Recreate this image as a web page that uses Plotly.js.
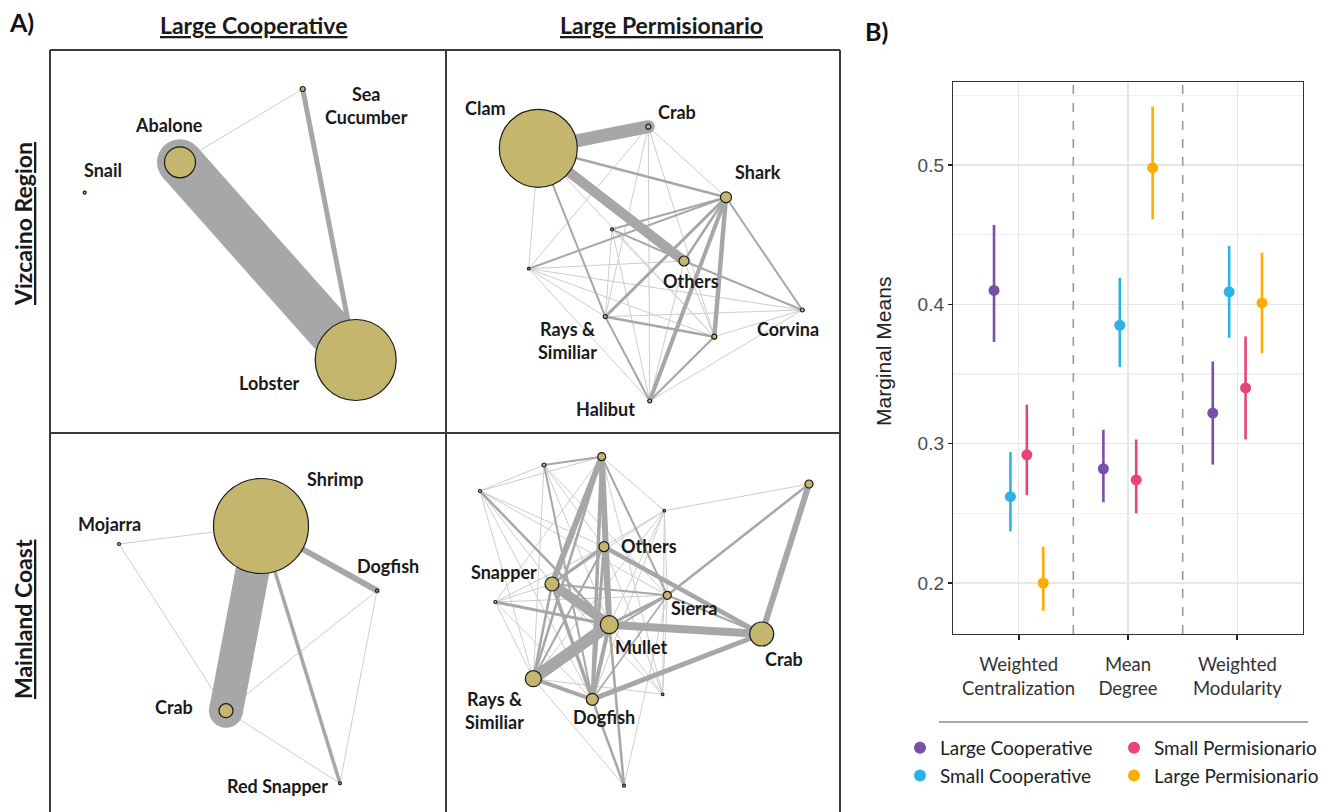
<!DOCTYPE html>
<html><head><meta charset="utf-8">
<script src="https://cdn.plot.ly/plotly-3.0.1.min.js"></script>
<style>html,body{margin:0;padding:0;background:#fff}#chart{width:1330px;height:812px}</style>
</head><body><div id="chart"></div>
<script>
// ================= Panel B data (marginal means with 95% CI) =================
const metrics = ['Weighted<br>Centralization', 'Mean<br>Degree', 'Weighted<br>Modularity'];
const groups = ['Large Cooperative', 'Small Cooperative', 'Small Permisionario', 'Large Permisionario'];
const meanLargeCoop = [0.410, 0.282, 0.322];
const lowLargeCoop  = [0.373, 0.258, 0.285];
const highLargeCoop = [0.457, 0.310, 0.359];
const meanSmallCoop = [0.262, 0.385, 0.409];
const lowSmallCoop  = [0.237, 0.355, 0.376];
const highSmallCoop = [0.294, 0.419, 0.442];
const meanSmallPerm = [0.292, 0.274, 0.340];
const lowSmallPerm  = [0.263, 0.250, 0.303];
const highSmallPerm = [0.328, 0.303, 0.377];
const meanLargePerm = [0.200, 0.498, 0.401];
const lowLargePerm  = [0.180, 0.461, 0.365];
const highLargePerm = [0.226, 0.542, 0.437];

// ================= Panel A network data (layout coordinates, node strength, edge weights) =================
// Vizcaino Region - Large Cooperative
const vcNodes    = ['Abalone', 'Sea Cucumber', 'Snail', 'Lobster'];
const vcX        = [130, 252.7, 34.7, 305.7];
const vcY        = [112.3, 39, 142.7, 310];
const vcStrength = [31, 5, 3, 81];
const vcFrom     = ['Abalone', 'Abalone', 'Sea Cucumber'];
const vcTo       = ['Lobster', 'Sea Cucumber', 'Lobster'];
const vcWeight   = [46, 1, 5];
const vcLabels   = ['Abalone', 'Sea<br>Cucumber', 'Snail', 'Lobster'];

// Vizcaino Region - Large Permisionario
const vpNodes    = ['Clam', 'Crab', 'Shark', 'u1', 'u2', 'Others', 'Rays', 'Corvina', 'u3', 'Halibut'];
const vpX        = [92.3, 202.3, 280, 166, 82.7, 238, 159.3, 356.3, 268.3, 203.7];
const vpY        = [98.3, 76.7, 147.3, 179.3, 218.7, 211, 266.7, 260, 286.7, 351];
const vpStrength = [78, 5, 11, 3, 2.5, 10, 4, 4, 5, 4];
const vpFrom = ['Clam','Clam','Clam','Clam','Clam','Clam','Crab','Crab','Crab','Crab','Crab',
                'Shark','Shark','Shark','Shark','Shark','Shark','Shark',
                'u1','u1','u1','u1','u2','u2','u2','u2','u2',
                'Rays','Rays','Rays','Others','Others','Others','u3','u3','Halibut'];
const vpTo   = ['Crab','Others','Shark','u2','Rays','u3','u2','Rays','u3','Shark','Halibut',
                'u1','u2','Rays','Others','Halibut','u3','Corvina',
                'Others','Rays','Halibut','u3','Others','Rays','Halibut','u3','Corvina',
                'u3','Corvina','Halibut','Corvina','Halibut','u3','Halibut','Corvina','Corvina'];
const vpWeight = [13, 10, 2.5, 1, 2, 1, 1, 1, 1, 1, 1,
                  2, 2, 3, 2.5, 4, 4.5, 2,
                  2, 1, 1, 1, 1, 1, 1, 1, 1,
                  2.5, 1, 2, 2, 1, 1, 2, 1, 1];
const vpLabels = ['Clam', 'Crab', 'Shark', '', '', 'Others', 'Rays &<br>Similiar', 'Corvina', '', 'Halibut'];

// Mainland Coast - Large Cooperative
const mcNodes    = ['Shrimp', 'Mojarra', 'Dogfish', 'Crab', 'Red Snapper'];
const mcX        = [211, 69, 327, 176, 290];
const mcY        = [93, 111, 157.7, 277.7, 350.3];
const mcStrength = [95, 3, 3, 14, 3];
const mcFrom     = ['Shrimp', 'Shrimp', 'Shrimp', 'Shrimp', 'Mojarra', 'Crab', 'Crab', 'Dogfish'];
const mcTo       = ['Crab', 'Dogfish', 'Red Snapper', 'Mojarra', 'Crab', 'Dogfish', 'Red Snapper', 'Red Snapper'];
const mcWeight   = [34, 6, 3.5, 1, 1, 1, 1, 1];
const mcLabels   = ['Shrimp', 'Mojarra', 'Dogfish', 'Crab', 'Red Snapper'];

// Mainland Coast - Large Permisionario
const mpNodes    = ['u1', 'u2', 'u3', 'u4', 'u5', 'Others', 'Snapper', 'u6', 'Sierra', 'Mullet', 'Crab', 'Rays', 'Dogfish', 'u7', 'u8'];
const mpX        = [155.7, 98, 34, 363, 218.3, 158, 106, 49.3, 221.3, 163.3, 315.7, 87.3, 146.3, 216.7, 178];
const mpY        = [23.7, 32, 58, 51, 77.7, 113.7, 151, 169, 162.3, 191.7, 201, 245.7, 266.3, 261.3, 352.7];
const mpStrength = [8, 4, 3, 8, 2.5, 10, 14, 3, 8, 18, 24, 16, 12, 2.5, 3];
const mpFrom = ['Mullet','Mullet','Mullet','u1','u1','u1','Crab','Crab','Others','Sierra','Others','Rays','Snapper','Snapper',
                'u6','u3','Sierra','Sierra','Dogfish','Mullet','Rays','u2','u3','u3','Dogfish','Rays','Rays','Others','u1','u1',
                'u2','u2','u2','u2','u2','u3','u3','u3','u3','u3',
                'u5','u5','u5','u5','u5','u5','u5','u5',
                'u6','u6','u6','u6','u6','u6',
                'u7','u7','u7','u7','u7','u7','u8','u8','u1','u1','Sierra','Sierra','Sierra'];
const mpTo   = ['Rays','Snapper','Crab','Mullet','Snapper','Dogfish','u4','Dogfish','Crab','u4','Mullet','Dogfish','Dogfish','Others',
                'Mullet','Mullet','Mullet','Snapper','u8','u8','u8','u1','u1','u2','Mullet','Snapper','Others','Dogfish','Rays','Sierra',
                'Others','Mullet','Dogfish','Rays','Sierra','Snapper','Others','Rays','Dogfish','Sierra',
                'Snapper','Mullet','Rays','Dogfish','u4','u7','Sierra','Others',
                'Snapper','Others','Sierra','Rays','Dogfish','u1',
                'Snapper','Mullet','Rays','Others','Sierra','u1','Snapper','Sierra','Others','u5','Crab','Rays','Dogfish'];
const mpWeight = [12, 10, 8, 6, 6, 3.5, 6, 5, 4.5, 2.5, 5, 4, 3.5, 3,
                  3, 2.5, 3, 2, 2.5, 2.5, 1, 2, 1, 1, 4, 2.5, 2, 3, 2.5, 2,
                  1, 1, 2, 1, 1, 1, 1, 1, 1, 1,
                  1, 1, 1, 1, 1, 1, 1, 1,
                  1, 1, 1, 1, 1, 1,
                  1, 1, 1, 1, 1, 1, 1, 1, 2, 1, 2, 2, 1.5];
const mpLabels = ['', '', '', '', '', 'Others', 'Snapper', '', 'Sierra', 'Mullet', 'Crab', 'Rays &<br>Similiar', 'Dogfish', '', ''];

// ================= label placement (layout) =================
const vcLabelPos = {x: [119.3, 316.7, 52.7, 219.3], y: [75, 55.3, 120, 333.3]};
const vpLabelPos = {x: [39, 231.3, 312.3, 0, 0, 244.7, 121.3, 342.3, 0, 159.7], y: [58.3, 62.3, 121.7, 0, 0, 231, 290.3, 279.3, 0, 359.3]};
const mcLabelPos = {x: [285, 59, 338.3, 124.3, 227.3], y: [46.3, 91.3, 133, 274.3, 352.7]};
const mpLabelPos = {x: [0,0,0,0,0, 203, 58.3, 0, 248, 195, 338.3, 48.3, 158.3, 0, 0], y: [0,0,0,0,0, 112.7, 138.7, 0, 174.7, 213.7, 226, 277.3, 283.7, 0, 0]};

// ================= builders =================
const W = 1330, H = 812;
const px = v => v / W;
const py = v => 1 - v / H;
const NODE_FILL = '#C5B66E';
const labelFont = {family: 'Lato, "Open Sans", sans-serif', size: 18, color: '#1a1a1a'};

function network(ax, ay, names, xs, ys, strength, from, to, weight) {
  const traces = [];
  const order = weight.map((v, i) => i).sort((a, b) => weight[a] - weight[b]);
  order.forEach(i => {
    const a = names.indexOf(from[i]), b = names.indexOf(to[i]);
    const w = weight[i];
    const color = w <= 1 ? '#cdcdcd' : '#a7a7a7';
    traces.push({
      type: 'scatter', mode: w >= 4 ? 'lines+markers' : 'lines',
      x: [xs[a], xs[b]], y: [ys[a], ys[b]], xaxis: ax, yaxis: ay,
      line: {color: color, width: w}, marker: {size: w, color: color},
      hoverinfo: 'skip', showlegend: false
    });
  });
  traces.push({
    type: 'scatter', mode: 'markers', x: xs, y: ys, xaxis: ax, yaxis: ay,
    marker: {size: strength, color: NODE_FILL, line: {color: '#1a1a1a', width: 1.2}, opacity: 1},
    hoverinfo: 'skip', showlegend: false
  });
  return traces;
}
function labels(xref, yref, texts, pos) {
  const out = [];
  texts.forEach((t, i) => {
    if (!t) return;
    out.push({xref: xref, yref: yref, x: pos.x[i], y: pos.y[i], text: '<b>' + t + '</b>',
      showarrow: false, font: labelFont, xanchor: 'center', yanchor: 'middle'});
  });
  return out;
}

let data = [];
data = data.concat(network('x', 'y', vcNodes, vcX, vcY, vcStrength, vcFrom, vcTo, vcWeight));
data = data.concat(network('x2', 'y2', vpNodes, vpX, vpY, vpStrength, vpFrom, vpTo, vpWeight));
data = data.concat(network('x3', 'y3', mcNodes, mcX, mcY, mcStrength, mcFrom, mcTo, mcWeight));
data = data.concat(network('x4', 'y4', mpNodes, mpX, mpY, mpStrength, mpFrom, mpTo, mpWeight));

// Panel B traces
const colors = ['#7A4FA7', '#2BB3E8', '#E8437C', '#FFAC00'];
const means = [meanLargeCoop, meanSmallCoop, meanSmallPerm, meanLargePerm];
const lows = [lowLargeCoop, lowSmallCoop, lowSmallPerm, lowLargePerm];
const highs = [highLargeCoop, highSmallCoop, highSmallPerm, highLargePerm];
const dodge = [-0.225, -0.075, 0.075, 0.225];
const legendOf = ['legend', 'legend', 'legend2', 'legend2'];
groups.forEach((g, k) => {
  data.push({
    type: 'scatter', mode: 'markers', name: g,
    x: metrics.map((m, i) => i + 1 + dodge[k]), y: means[k],
    xaxis: 'x5', yaxis: 'y5',
    marker: {size: 11, color: colors[k]},
    error_y: {type: 'data', symmetric: false,
      array: means[k].map((v, i) => highs[k][i] - v),
      arrayminus: means[k].map((v, i) => v - lows[k][i]),
      color: colors[k], thickness: 2.6, width: 0},
    legend: legendOf[k], hoverinfo: 'skip'
  });
});

function netAxes(x0, x1, y0, y1) {
  return [
    {domain: [px(x0), px(x1)], range: [0, x1 - x0], visible: false, fixedrange: true},
    {domain: [py(y1), py(y0)], range: [y1 - y0, 0], visible: false, fixedrange: true}
  ];
}
const a1 = netAxes(50, 446, 50, 433);
const a2 = netAxes(446, 840, 50, 433);
const a3 = netAxes(50, 446, 433, 812);
const a4 = netAxes(446, 840, 433, 812);

const borderLine = {color: '#3a3a3a', width: 2};
const shapes = [
  {type: 'line', xref: 'paper', yref: 'paper', x0: px(50), x1: px(50), y0: py(50), y1: 0, line: borderLine},
  {type: 'line', xref: 'paper', yref: 'paper', x0: px(446), x1: px(446), y0: py(50), y1: 0, line: borderLine},
  {type: 'line', xref: 'paper', yref: 'paper', x0: px(840), x1: px(840), y0: py(50), y1: 0, line: borderLine},
  {type: 'line', xref: 'paper', yref: 'paper', x0: px(50), x1: px(840), y0: py(50), y1: py(50), line: borderLine},
  {type: 'line', xref: 'paper', yref: 'paper', x0: px(50), x1: px(840), y0: py(433), y1: py(433), line: borderLine},
  {type: 'line', xref: 'x5', yref: 'y5 domain', x0: 1.5, x1: 1.5, y0: 0, y1: 1, line: {color: '#9a9a9a', width: 1.6, dash: 'dash'}},
  {type: 'line', xref: 'x5', yref: 'y5 domain', x0: 2.5, x1: 2.5, y0: 0, y1: 1, line: {color: '#9a9a9a', width: 1.6, dash: 'dash'}},
  {type: 'line', xref: 'paper', yref: 'paper', x0: px(939), x1: px(1308), y0: py(722), y1: py(722), line: {color: '#555', width: 1.2}}
];

const headFont = {family: 'Lato, "Open Sans", sans-serif', size: 23, color: '#1a1a1a'};
function paperText(x, y, text, font, angle) {
  return {xref: 'paper', yref: 'paper', x: px(x), y: py(y), text: text, showarrow: false,
    xanchor: 'center', yanchor: 'middle', textangle: angle || 0, font: font};
}
let annotations = [
  paperText(22, 22, '<b>A)</b>', {family: 'Lato, sans-serif', size: 25, color: '#111'}),
  paperText(876, 31, '<b>B)</b>', {family: 'Lato, sans-serif', size: 25, color: '#111'}),
  paperText(253, 25, '<b><u>Large Cooperative</u></b>', headFont),
  paperText(661, 25, '<b><u>Large Permisionario</u></b>', headFont),
  paperText(23, 224, '<b><u>Vizcaino Region</u></b>', headFont, -90),
  paperText(23, 619, '<b><u>Mainland Coast</u></b>', headFont, -90),
  paperText(883, 352, 'Marginal Means', {family: '"Liberation Sans", Arial, sans-serif', size: 21, color: '#222'}, -90)
];
annotations = annotations.concat(labels('x', 'y', vcLabels, vcLabelPos));
annotations = annotations.concat(labels('x2', 'y2', vpLabels, vpLabelPos));
annotations = annotations.concat(labels('x3', 'y3', mcLabels, mcLabelPos));
annotations = annotations.concat(labels('x4', 'y4', mpLabels, mpLabelPos));

const legendBase = {orientation: 'v', xanchor: 'left', yanchor: 'top', bgcolor: 'rgba(0,0,0,0)',
  font: {family: 'Lato, "Open Sans", sans-serif', size: 19, color: '#222'}, itemsizing: 'constant', tracegroupgap: 0};

const layout = {
  width: W, height: H, margin: {l: 0, r: 0, t: 0, b: 0},
  paper_bgcolor: '#fff', plot_bgcolor: '#fff', hovermode: false,
  xaxis: a1[0], yaxis: a1[1], xaxis2: a2[0], yaxis2: a2[1],
  xaxis3: a3[0], yaxis3: a3[1], xaxis4: a4[0], yaxis4: a4[1],
  xaxis5: {domain: [px(953), px(1303)], range: [0.4, 3.6], anchor: 'y5',
    tickmode: 'array', tickvals: [1, 2, 3], ticktext: metrics,
    showgrid: true, gridcolor: '#E6E6E6', gridwidth: 1.6, zeroline: false,
    showline: true, mirror: true, linecolor: '#333', linewidth: 1.2,
    ticks: 'outside', ticklen: 5, tickwidth: 1.8, tickcolor: '#222', ticklabelstandoff: 9,
    tickfont: {family: 'Lato, "Open Sans", sans-serif', size: 18.5, color: '#333'}, fixedrange: true},
  yaxis5: {domain: [py(634), py(82)], range: [0.1634, 0.5596], anchor: 'x5',
    tick0: 0, dtick: 0.1, tickformat: '.1f',
    showgrid: true, gridcolor: '#E6E6E6', gridwidth: 1.6, zeroline: false,
    minor: {tick0: 0, dtick: 0.05, showgrid: true, gridcolor: '#F0F0F0', gridwidth: 1.2, ticks: ''},
    showline: true, mirror: true, linecolor: '#333', linewidth: 1.2,
    ticks: 'outside', ticklen: 4, tickwidth: 1.5, tickcolor: '#222',
    tickfont: {family: '"Liberation Sans", Arial, sans-serif', size: 19, color: '#4d4d4d'}, fixedrange: true},
  legend: Object.assign({}, legendBase, {x: px(900), y: py(729)}),
  legend2: Object.assign({}, legendBase, {x: px(1114), y: py(729)}),
  shapes: shapes,
  annotations: annotations
};

Plotly.newPlot('chart', data, layout, {displayModeBar: false, staticPlot: true});
</script>
</body></html>
